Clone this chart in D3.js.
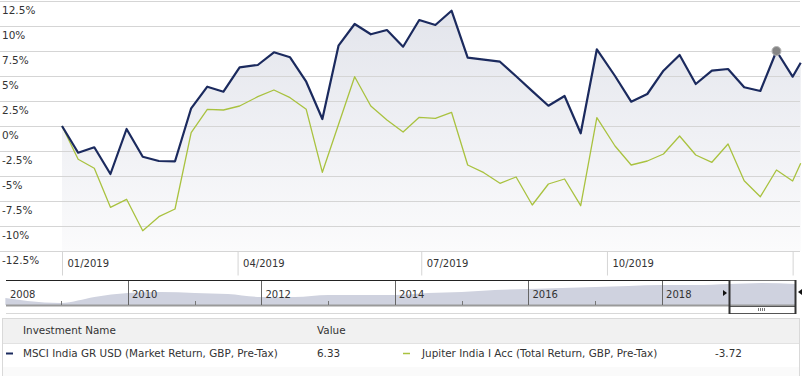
<!DOCTYPE html>
<html>
<head>
<meta charset="utf-8">
<script src="https://cdn.jsdelivr.net/npm/d3@7"></script>
<style>
body { margin: 0; background: #fff; }
svg text { font-family: "DejaVu Sans", Verdana, sans-serif; font-size: 10px; fill: #333; }
</style>
</head>
<body>
<div id="chart"></div>
<script>
var dates = ["2019-01-04","2019-01-12","2019-01-20","2019-01-28","2019-02-05","2019-02-13","2019-02-21",
  "2019-03-01","2019-03-09","2019-03-17","2019-03-25","2019-04-02","2019-04-11","2019-04-19","2019-04-27",
  "2019-05-05","2019-05-13","2019-05-21","2019-05-29","2019-06-06","2019-06-14","2019-06-22","2019-06-30",
  "2019-07-08","2019-07-16","2019-07-24","2019-08-01","2019-08-09","2019-08-17","2019-08-25","2019-09-02",
  "2019-09-10","2019-09-18","2019-09-26","2019-10-05","2019-10-13","2019-10-21","2019-10-29","2019-11-06",
  "2019-11-14","2019-11-22","2019-11-30","2019-12-08","2019-12-16","2019-12-24","2020-01-01","2020-01-05"];

var msci = [0, -2.67, -2.13, -4.8, -0.3, -3.07, -3.5, -3.53, 1.77, 3.93, 3.43, 5.87, 6.1, 7.37, 6.87,
  4.43, 0.7, 8.03, 10.2, 9.17, 9.6, 7.93, 10.6, 10.1, 11.53, 6.83, 6.63, 6.43, 4.97, 3.49, 2.03,
  3.0, -0.73, 7.67, 5.0, 2.43, 3.2, 5.53, 7.1, 4.2, 5.53, 5.7, 3.87, 3.5, 7.5, 4.93, 6.33];

var jupiter = [0, -3.33, -4.23, -8.13, -7.33, -10.47, -9.07, -8.3, -0.67, 1.67, 1.6, 2.0, 2.93, 3.6, 2.83,
  1.67, -4.63, 0.15, 4.93, 2.0, 0.6, -0.6, 0.87, 0.77, 1.37, -3.9, -4.67, -5.73, -5.1, -7.9, -5.8,
  -5.3, -7.97, 0.83, -2.0, -3.9, -3.5, -2.8, -1.0, -2.9, -3.63, -1.8, -5.47, -7.07, -4.4, -5.5, -3.72];

var yTicks = [-12.5, -10, -7.5, -5, -2.5, 0, 2.5, 5, 7.5, 10, 12.5];
var yTickLabels = ["-12.5%", "-10%", "-7.5%", "-5%", "-2.5%", "0%", "2.5%", "5%", "7.5%", "10%", "12.5%"];
var xTicks = ["2019-01-04", "2019-04-01", "2019-07-01", "2019-10-01", "2020-01-01"];
var xTickLabels = ["01/2019", "04/2019", "07/2019", "10/2019", ""];

// long history in the navigator strip
var navDates = ["2008-03-01","2008-07-01","2009-01-01","2009-07-01","2010-01-01","2010-07-01","2011-01-01",
  "2011-07-01","2012-01-01","2012-07-01","2013-01-01","2013-07-01","2014-01-01","2014-07-01","2015-01-01",
  "2015-07-01","2016-01-01","2016-07-01","2017-01-01","2017-07-01","2018-01-01","2018-07-01","2019-01-01",
  "2019-07-01","2020-01-01"];
var navValues = [7, 4, 2, 8, 12, 13, 12, 11, 8, 8, 10, 10, 10, 12, 13, 15, 16, 17, 18, 19, 20, 20, 21, 22, 21];
var navYears = [2008, 2010, 2012, 2014, 2016, 2018];
var navMinorYears = [2009, 2011, 2013, 2015, 2017];

var seriesNames = ["MSCI India GR USD (Market Return, GBP, Pre-Tax)", "Jupiter India I Acc (Total Return, GBP, Pre-Tax)"];
var seriesValues = ["6.33", "-3.72"];
var seriesColors = ["#1b2a5e", "#a9c23f"];

var parse = d3.timeParse("%Y-%m-%d");
var W = 805, H = 376;

var svg = d3.select("#chart").append("svg")
    .attr("width", W)
    .attr("height", H);

var x = d3.scaleTime()
    .domain([parse(dates[0]), parse(dates[dates.length - 1])])
    .range([62, 800.7]);

var y = d3.scaleLinear()
    .domain([-12.5, 12.5])
    .range([251, 1]);

var defs = svg.append("defs");
var grad = defs.append("linearGradient")
    .attr("id", "areaFill")
    .attr("x1", 0).attr("y1", 0).attr("x2", 0).attr("y2", 1);
grad.append("stop").attr("offset", "0%").attr("stop-color", "#e3e5ec");
grad.append("stop").attr("offset", "100%").attr("stop-color", "#fbfbfc");

var data = dates.map(function(d, i) {
  return {date: parse(d), msci: msci[i], jupiter: jupiter[i]};
});

// area under the index line
var area = d3.area()
    .x(function(d) { return x(d.date); })
    .y0(y(-12.5))
    .y1(function(d) { return y(d.msci); });

svg.append("path")
    .datum(data)
    .attr("d", area)
    .attr("fill", "url(#areaFill)");

// grid
svg.append("g")
    .selectAll("line")
    .data(yTicks).enter().append("line")
    .attr("x1", 0)
    .attr("x2", 800)
    .attr("y1", function(d) { return Math.round(y(d)) + 0.5; })
    .attr("y2", function(d) { return Math.round(y(d)) + 0.5; })
    .attr("stroke", "#d5d5d5")
    .attr("stroke-width", 1);

svg.append("g")
    .selectAll("text")
    .data(yTicks).enter().append("text")
    .attr("x", 2)
    .attr("y", function(d) { return y(d) + 12.5; })
    .style("font-size", "10.5px")
    .text(function(d, i) { return yTickLabels[i]; });

// x axis
var xAxis = svg.append("g")
    .attr("transform", "translate(0," + (y(-12.5) + 0.5) + ")")
    .call(d3.axisBottom(x)
      .tickValues(xTicks.map(parse))
      .tickSize(24)
      .tickFormat(function(d, i) { return xTickLabels[i]; }));

xAxis.select(".domain").remove();
xAxis.selectAll(".tick line").attr("stroke", "#d5d5d5");
xAxis.selectAll(".tick text")
    .attr("text-anchor", "start")
    .attr("x", 5)
    .attr("y", 8)
    .attr("dy", "0.71em")
    .style("font-size", "10px")
    .attr("fill", "#333");

// lines
var lineM = d3.line()
    .x(function(d) { return x(d.date); })
    .y(function(d) { return y(d.msci); });

var lineJ = d3.line()
    .x(function(d) { return x(d.date); })
    .y(function(d) { return y(d.jupiter); });

svg.append("path")
    .datum(data)
    .attr("d", lineJ)
    .attr("fill", "none")
    .attr("stroke", seriesColors[1])
    .attr("stroke-width", 1.3)
    .attr("stroke-linejoin", "round");

svg.append("path")
    .datum(data)
    .attr("d", lineM)
    .attr("fill", "none")
    .attr("stroke", seriesColors[0])
    .attr("stroke-width", 2.2)
    .attr("stroke-linejoin", "round");

// hover marker on the peak near the end
var hover = data[44];
svg.append("circle")
    .attr("cx", x(hover.date))
    .attr("cy", y(hover.msci))
    .attr("r", 4.5)
    .attr("fill", "#858585")
    .attr("stroke", "#b5b5b5")
    .attr("stroke-width", 1);

// navigator
var nx = d3.scaleTime()
    .domain([parse("2010-01-01"), parse("2020-01-01")])
    .range([128, 795.5]);
var ny = d3.scaleLinear().domain([0, 25]).range([305, 280]);

var nav = svg.append("g");

var navData = navDates.map(function(d, i) { return {date: parse(d), v: navValues[i]}; });

nav.append("path")
    .datum(navData)
    .attr("d", d3.area()
      .curve(d3.curveMonotoneX)
      .x(function(d) { return nx(d.date); })
      .y0(305)
      .y1(function(d) { return ny(d.v); }))
    .attr("fill", "#cfd2df");

nav.append("line")
    .attr("x1", 6).attr("x2", 729)
    .attr("y1", 280.5).attr("y2", 280.5)
    .attr("stroke", "#222");

nav.append("line")
    .attr("x1", 6).attr("x2", 796)
    .attr("y1", 305.5).attr("y2", 305.5)
    .attr("stroke", "#9a9a9a")
    .attr("stroke-width", 2);

nav.append("line")
    .attr("x1", 6).attr("x2", 729)
    .attr("y1", 313.5).attr("y2", 313.5)
    .attr("stroke", "#d8d8d8");

nav.selectAll(".div")
    .data(navYears.slice(1)).enter().append("line")
    .attr("x1", function(d) { return Math.round(nx(parse(d + "-01-01"))) + 0.5; })
    .attr("x2", function(d) { return Math.round(nx(parse(d + "-01-01"))) + 0.5; })
    .attr("y1", 281).attr("y2", 305)
    .attr("stroke", "#666");

nav.selectAll(".minor")
    .data(navMinorYears).enter().append("line")
    .attr("x1", function(d) { return Math.round(nx(parse(d + "-01-01"))) + 0.5; })
    .attr("x2", function(d) { return Math.round(nx(parse(d + "-01-01"))) + 0.5; })
    .attr("y1", 301).attr("y2", 305)
    .attr("stroke", "#777");

nav.selectAll(".yl")
    .data(navYears).enter().append("text")
    .attr("x", function(d) { return Math.max(10, nx(parse(d + "-01-01")) + 4); })
    .attr("y", 298)
    .text(function(d) { return d; });

// selected window
nav.append("rect")
    .attr("x", 729.5).attr("y", 280.5)
    .attr("width", 66).attr("height", 32)
    .attr("fill", "none")
    .attr("stroke", "#777");

nav.append("rect")
    .attr("x", 729.5).attr("y", 306.5)
    .attr("width", 66).attr("height", 7)
    .attr("fill", "#fff")
    .attr("stroke", "#555");

nav.selectAll(".grip")
    .data([0, 1, 2, 3]).enter().append("line")
    .attr("x1", function(d) { return 758.5 + d * 2; })
    .attr("x2", function(d) { return 758.5 + d * 2; })
    .attr("y1", 308).attr("y2", 311)
    .attr("stroke", "#777");

nav.append("line")
    .attr("x1", 729.5).attr("x2", 729.5)
    .attr("y1", 280).attr("y2", 314)
    .attr("stroke", "#333").attr("stroke-width", 2);
nav.append("line")
    .attr("x1", 795.5).attr("x2", 795.5)
    .attr("y1", 280).attr("y2", 314)
    .attr("stroke", "#333").attr("stroke-width", 2);

nav.append("path").attr("d", "M723,290L727,293L723,296Z").attr("fill", "#111");
nav.append("path").attr("d", "M802,289L798,292L802,295Z").attr("fill", "#111");

// legend table
var leg = svg.append("g");

leg.append("rect")
    .attr("x", 2.5).attr("y", 318.5)
    .attr("width", 797).attr("height", 60)
    .attr("fill", "#fafafa")
    .attr("stroke", "#d9d9d9");

leg.append("rect")
    .attr("x", 3).attr("y", 319)
    .attr("width", 796).attr("height", 24)
    .attr("fill", "#f1f1f1");

leg.append("rect")
    .attr("x", 3).attr("y", 343)
    .attr("width", 796).attr("height", 24)
    .attr("fill", "#fff");

leg.append("line")
    .attr("x1", 3).attr("x2", 799)
    .attr("y1", 343.5).attr("y2", 343.5)
    .attr("stroke", "#e2e2e2");

leg.append("text").attr("x", 23).attr("y", 334).style("font-size", "10.4px").text("Investment Name");
leg.append("text").attr("x", 317).attr("y", 334).style("font-size", "10.4px").text("Value");

var rowX = [6, 403], nameX = [23, 422], valX = [317, 715];
seriesNames.forEach(function(n, i) {
  leg.append("line")
      .attr("x1", rowX[i]).attr("x2", rowX[i] + 7)
      .attr("y1", 353.5).attr("y2", 353.5)
      .attr("stroke", seriesColors[i])
      .attr("stroke-width", i == 0 ? 2 : 1.5);
  leg.append("text").attr("x", nameX[i]).attr("y", 357).attr("fill", "#222")
      .style("font-size", "10.4px").text(n);
  leg.append("text").attr("x", valX[i]).attr("y", 357).attr("fill", "#222")
      .style("font-size", "10.4px").text(seriesValues[i]);
});
</script>
</body>
</html>
